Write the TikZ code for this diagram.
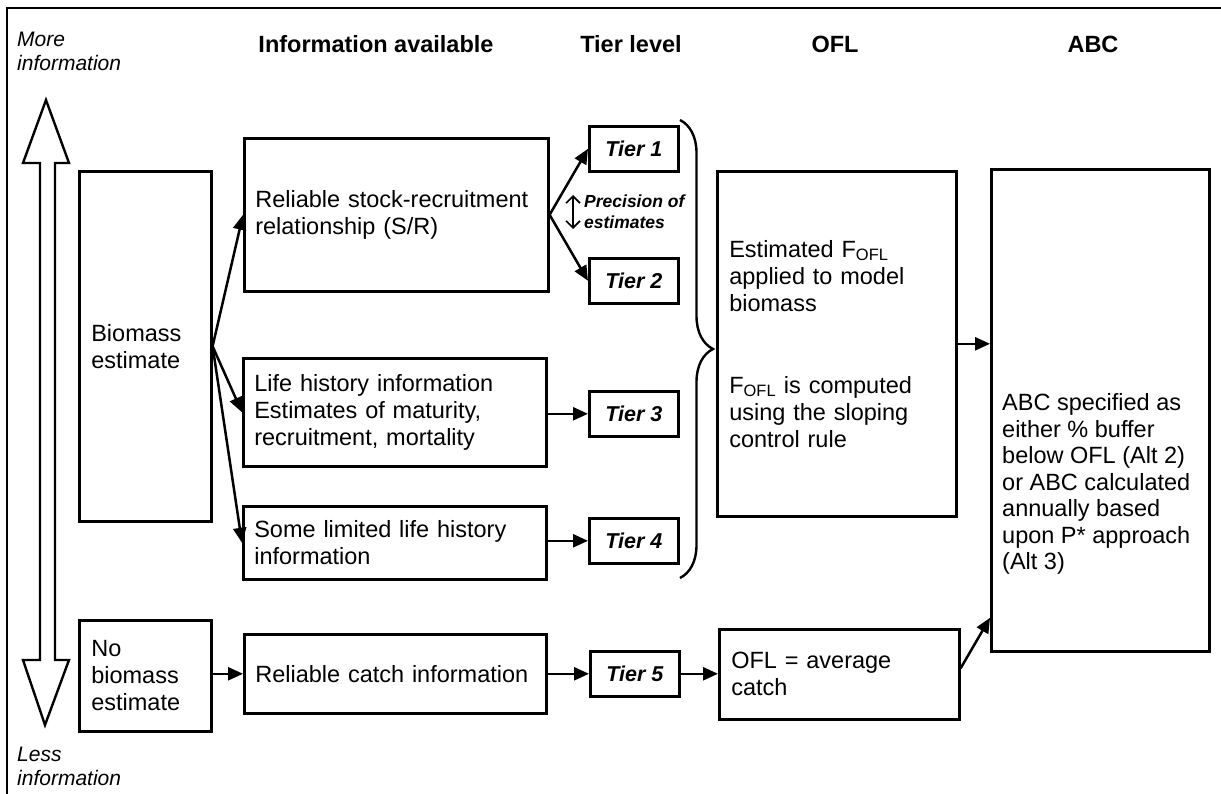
\documentclass[tikz,border=0pt]{standalone}
\usepackage{fontspec}
\setmainfont{Liberation Sans}
\usetikzlibrary{arrows.meta,decorations.pathreplacing,calc}
\newcommand\bodyfont{\fontsize{23.5}{27}\selectfont}
\newcommand\abcfont{\fontsize{23.5}{26.5}\selectfont}
\newcommand\tierfont{\fontsize{21.5}{25}\selectfont\bfseries\itshape}
\newcommand\hdrfont{\fontsize{23.5}{28}\selectfont\bfseries}
\newcommand\sidefont{\fontsize{21}{24}\selectfont\itshape}
\newcommand\precfont{\fontsize{17.5}{21}\selectfont\bfseries\itshape}
\begin{document}
\begin{tikzpicture}[x=1pt,y=-1pt,
  infobox/.style={draw, line width=2.6pt, inner xsep=11pt, inner ysep=0pt, align=left, font=\bodyfont, anchor=north west},
  tierbox/.style={draw, line width=2.6pt, font=\tierfont, minimum width=89pt, minimum height=45pt, inner sep=0pt, anchor=north west},
  arr/.style={line width=2.5pt, -{Triangle[length=15pt,width=13pt]}},
  hdr/.style={font=\hdrfont, anchor=base, inner sep=0pt},
  sidetext/.style={font=\sidefont, align=left, anchor=west, inner sep=0pt}]
\useasboundingbox (0,0) rectangle (1221,794);
\fill[white] (0,0) rectangle (1221,794);
% frame
\draw[line width=2.6pt] (7,794) -- (7,8) -- (1221,8);
% side labels
\node[sidetext] (more) at (17,51.5) {More\\information};
\node[sidetext] (less) at (17,766) {Less\\information};
% big double arrow
\draw[line width=2.4pt, fill=white, line join=miter] (46,100) -- (69,163) -- (55,163) -- (55,660) -- (69,660) -- (45,725) -- (23,660) -- (40,660) -- (40,163) -- (23,163) -- cycle;
% headers
\node[hdr] (h1) at (376,53) {Information available};
\node[hdr] (h2) at (631,53) {Tier level};
\node[hdr] (h3) at (835,53) {OFL};
\node[hdr] (h4) at (1093,53) {ABC};
% boxes
\node[infobox, minimum width=132pt, minimum height=350pt, text width=108pt, inner xsep=12pt] (bio) at (78,170) {Biomass\\estimate};
\node[infobox, minimum width=132pt, minimum height=111pt, text width=108pt, inner xsep=12pt] (nobio) at (78,619) {No\\biomass\\estimate};
\node[infobox, minimum width=304pt, minimum height=153pt, text width=282pt] (sr) at (243,137) {Reliable stock-recruitment\\relationship (S/R)};
\node[infobox, minimum width=303pt, minimum height=108pt, text width=281pt] (life) at (242,357) {Life history information\\Estimates of maturity,\\recruitment, mortality};
\node[infobox, minimum width=303pt, minimum height=73pt, text width=281pt] (lim) at (242,505) {Some limited life history\\information};
\node[infobox, minimum width=302pt, minimum height=79pt, text width=280pt] (catch) at (243,633) {Reliable catch information};
% tiers
\node[tierbox] (t1) at (588,125) {Tier 1};
\node[tierbox] (t2) at (588,257) {Tier 2};
\node[tierbox] (t3) at (588,390) {Tier 3};
\node[tierbox] (t4) at (588,517) {Tier 4};
\node[tierbox] (t5) at (589,650) {Tier 5};
% precision
\node[font=\precfont, align=left, anchor=west, inner sep=0pt] (prec) at (584,212) {Precision of\\estimates};
\draw[line width=1.6pt, {Straight Barb[length=7pt,width=14pt]}-{Straight Barb[length=7pt,width=14pt]}] (573,195) -- (573,229);
% brace
\draw[line width=2.4pt, decorate, decoration={brace, amplitude=33pt}] (680,120) -- (680,578);
% OFL boxes
\node[infobox, minimum width=239pt, minimum height=345pt, text width=215pt, inner xsep=12pt] (ofl) at (716,170) {Estimated F\textsubscript{OFL}\\applied to model\\biomass\\[55pt]F\textsubscript{OFL} is computed\\using the sloping\\control rule};
\node[infobox, minimum width=240pt, minimum height=90pt, text width=216pt, inner xsep=12pt] (avg) at (718,628) {OFL = average\\catch};
% ABC box
\node[draw, line width=2.6pt, minimum width=218pt, minimum height=482pt, anchor=north west, inner sep=0pt] (abc) at (990,168) {};
\node[font=\abcfont, align=left, anchor=west, inner sep=0pt] (abctext) at (1002,484) {ABC specified as\\either \% buffer\\below OFL (Alt 2)\\or ABC calculated\\annually based\\upon P* approach\\(Alt 3)};
% connectors
\draw[arr] (bio.east) -- (sr.west);
\draw[arr] (bio.east) -- (life.west);
\draw[arr] (bio.east) -- (lim.west);
\draw[arr] (sr.east) -- (t1.west);
\draw[arr] (sr.east) -- (t2.west);
\draw[arr] (life.east |- t3.west) -- (t3.west);
\draw[arr] (lim.east |- t4.west) -- (t4.west);
\draw[arr] (nobio.east |- catch.west) -- (catch.west);
\draw[arr] (catch.east) -- (t5.west);
\draw[arr] (t5.east) -- (t5.east -| avg.west);
\draw[arr] (ofl.east) -- (ofl.east -| abc.west);
\draw[arr] ($(avg.east)+(0,-6)$) -- (abc.242);
\end{tikzpicture}
\end{document}
